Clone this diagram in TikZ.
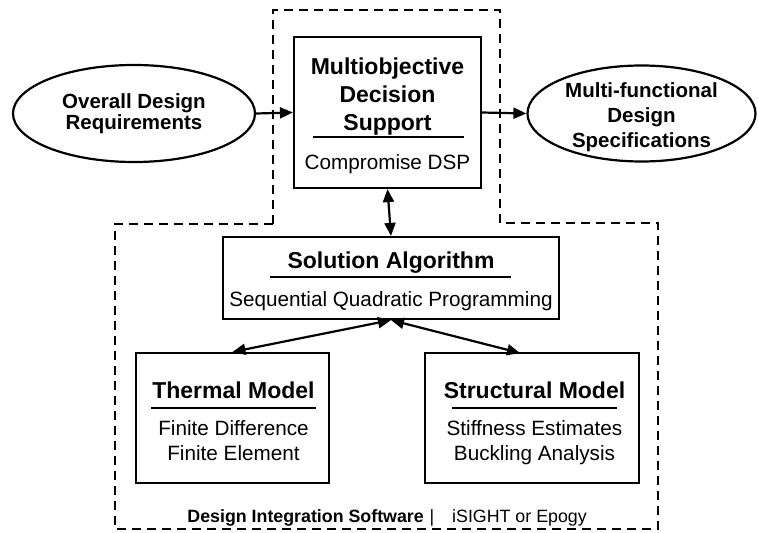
\documentclass[tikz,border=0pt]{standalone}
\usepackage{fontspec}
\setmainfont{Liberation Sans}
\usetikzlibrary{arrows.meta,shapes.geometric}
\begin{document}
\begin{tikzpicture}[x=1pt,y=-1pt,
  box/.style={draw,line width=2.2pt,inner sep=0pt},
  oval/.style={draw,ellipse,line width=2.2pt,inner sep=0pt},
  bt/.style={font=\fontsize{23}{27}\selectfont\bfseries,anchor=base,inner sep=0pt},
  rt/.style={font=\fontsize{20.7}{24}\selectfont,anchor=base,inner sep=0pt},
  et/.style={font=\fontsize{20.5}{24}\selectfont\bfseries,anchor=base,inner sep=0pt},
  ft/.style={font=\fontsize{17.8}{21}\selectfont,inner sep=0pt},
  uline/.style={line width=2.2pt},
  conn/.style={line width=2.2pt,-{Triangle[length=13pt,width=11pt]}},
  dconn/.style={line width=2.2pt,{Triangle[length=13pt,width=11pt]}-{Triangle[length=13pt,width=11pt]}},
  frame/.style={line width=2.2pt,dash pattern=on 9pt off 6pt}]
\useasboundingbox (0,0) rectangle (758,533);

% dashed integration frame
\draw[frame] (273,224) -- (273,10) -- (500,10) -- (500,223) -- (658,223)
  -- (658,529) -- (115,529) -- (115,224) -- cycle;

% ellipses
\node[oval,minimum width=242pt,minimum height=97pt] (req) at (134,113.5) {};
\node[et] (req1) at (134,108.5) {Overall Design};
\node[et] (req2) at (134,129) {Requirements};

\node[oval,minimum width=228pt,minimum height=96pt] (spec) at (641.5,113.5) {};
\node[et] (spec1) at (641.5,97) {Multi-functional};
\node[et] (spec2) at (641.5,122) {Design};
\node[et] (spec3) at (641.5,147) {Specifications};

% decision support box
\node[box,minimum width=187pt,minimum height=151pt] (mds) at (387.5,112.5) {};
\node[bt] (mds1) at (387.5,74) {Multiobjective};
\node[bt] (mds2) at (387.5,102.5) {Decision};
\node[bt] (mds3) at (387.5,130) {Support};
\draw[uline] (313,137) -- (464,137);
\node[rt] (mds4) at (387.5,169) {Compromise DSP};

% solution algorithm box
\node[box,minimum width=336pt,minimum height=82pt] (sol) at (391,278) {};
\node[bt] (sol1) at (391,268) {Solution Algorithm};
\draw[uline] (270,277) -- (511,277);
\node[rt] (sol2) at (391,306.5) {Sequential Quadratic Programming};

% thermal model box
\node[box,minimum width=193pt,minimum height=130pt] (th) at (232.5,418) {};
\node[bt] (th1) at (233.5,398) {Thermal Model};
\draw[uline] (151,408) -- (316,408);
\node[rt] (th2) at (233.5,435) {Finite Difference};
\node[rt] (th3) at (233.5,460) {Finite Element};

% structural model box
\node[box,minimum width=214pt,minimum height=130pt] (st) at (532,418) {};
\node[bt] (st1) at (534.5,398) {Structural Model};
\draw[uline] (452,408) -- (617,408);
\node[rt] (st2) at (534.5,435) {Stiffness Estimates};
\node[rt] (st3) at (534.5,460) {Buckling Analysis};

% footer
\node[ft,anchor=base east] (dis) at (424,522) {\bfseries Design Integration Software};
\node[ft,anchor=base] (bar) at (432,522) {|};
\node[ft,anchor=base west] (isi) at (452,522) {iSIGHT or Epogy};

% connectors
\draw[conn] (req.east) -- (mds.west);
\draw[conn] (mds.east) -- (spec.west);
\draw[dconn] (mds.south) -- (sol.north);
\draw[dconn] (sol.south) -- (th.north);
\coordinate (stin) at (520,353);
\draw[dconn] (sol.south) -- (stin);
\end{tikzpicture}
\end{document}
